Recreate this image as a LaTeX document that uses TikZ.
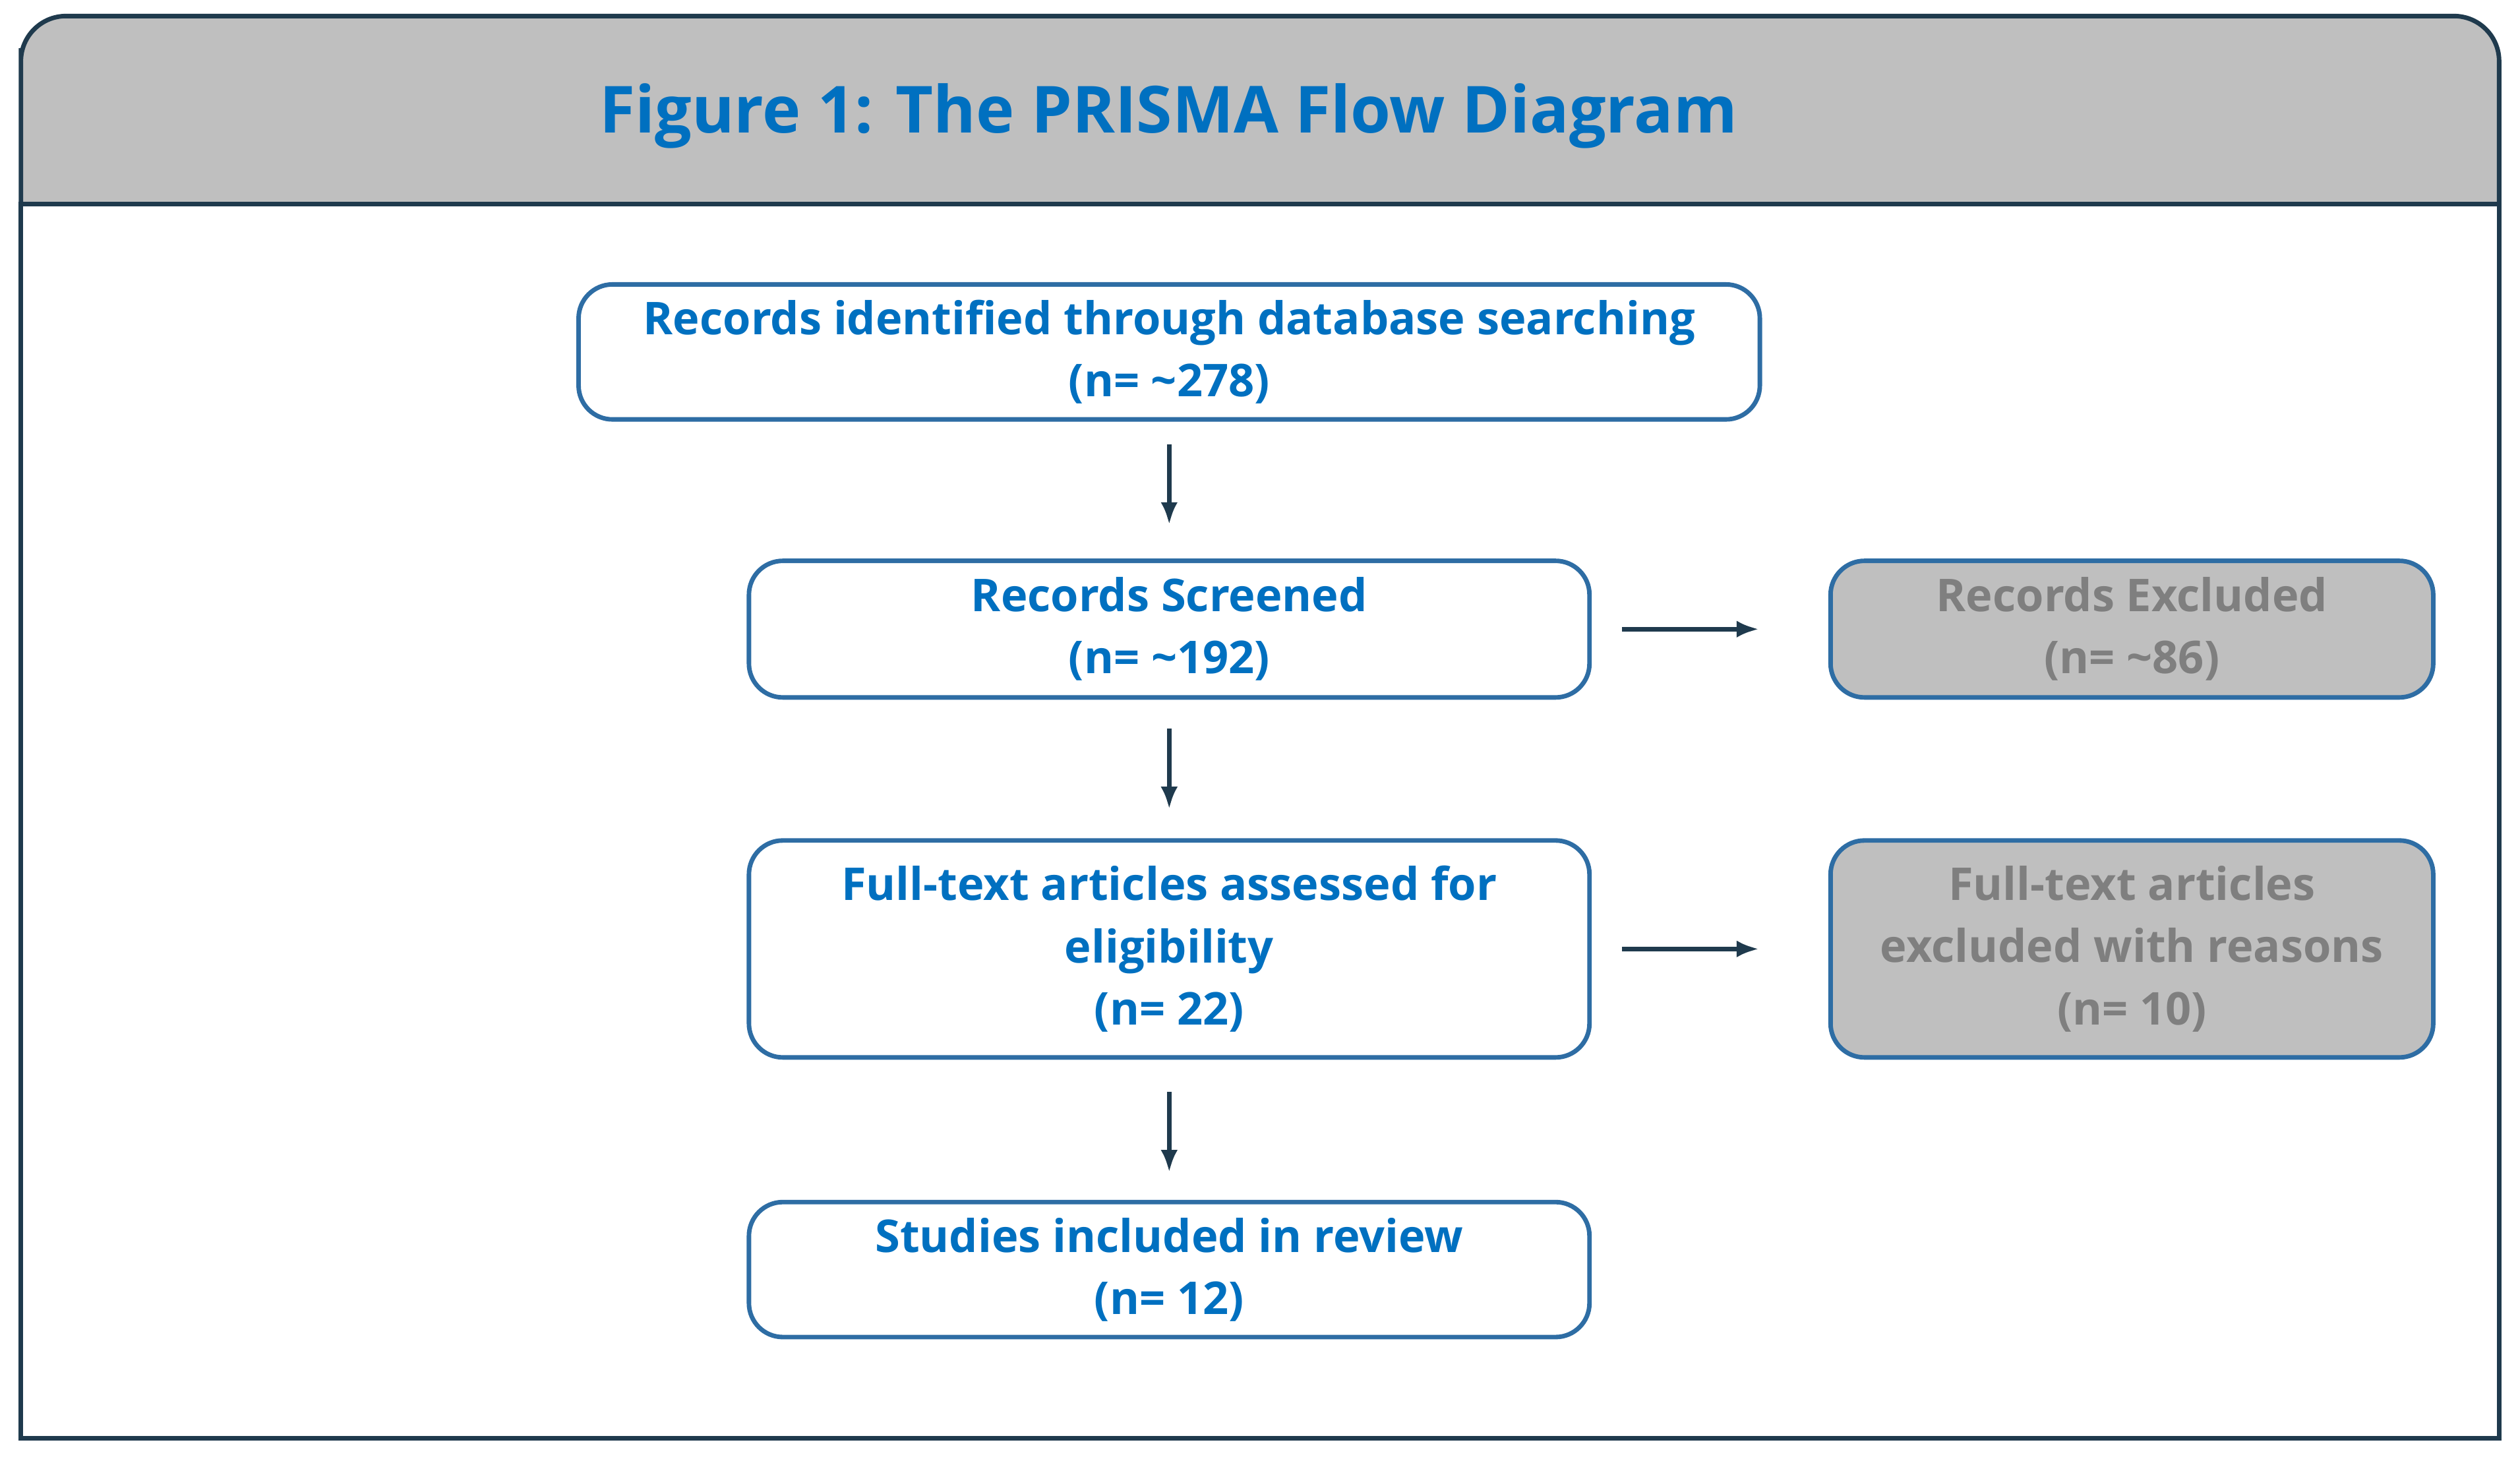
\documentclass[tikz,border=0pt]{standalone}
\usepackage{fontspec}
\setmainfont{Open Sans}
\usetikzlibrary{arrows.meta, positioning}
\definecolor{titleblue}{HTML}{0070C0}
\definecolor{edgeblue}{HTML}{2E6DA4}
\definecolor{framedark}{HTML}{1F3A4D}
\definecolor{headgrey}{HTML}{BFBFBF}
\definecolor{textgrey}{HTML}{7F7F7F}
\tikzset{
    stage/.style={draw=edgeblue, thick, rounded corners=6pt, fill=white, align=center,
        text=titleblue, font=\fontsize{8}{11}\selectfont\bfseries, inner sep=0pt},
    excl/.style={stage, fill=headgrey, text=textgrey},
    flow/.style={-{Latex[length=4pt,width=3pt]}, draw=framedark, thick}
}
\begin{document}
\begin{tikzpicture}
\useasboundingbox (0,0) rectangle (15.68,9.10);
\draw[framedark, thick] (0.13,0.15) rectangle (15.55,7.83);
\draw[framedark, thick, fill=headgrey] (0.13,7.83) -- (0.13,8.80) [rounded corners=8pt] -- (0.13,9.00) -- (15.55,9.00) [sharp corners] -- (15.55,7.83) -- cycle;
\node[text=titleblue, font=\fontsize{11.5}{14}\selectfont\bfseries] (title) at (7.27,8.38) {Figure 1: The PRISMA Flow Diagram};
\node[stage, minimum width=7.35cm, minimum height=0.84cm] (records) at (7.275,6.91) {Records identified through database searching\\(n= \textasciitilde 278)};
\node[stage, minimum width=5.23cm, minimum height=0.85cm] (screened) at (7.275,5.185) {Records Screened\\(n= \textasciitilde 192)};
\node[stage, minimum width=5.23cm, minimum height=1.35cm] (fulltext) at (7.275,3.195) {Full-text articles assessed for\\eligibility\\(n= 22)};
\node[stage, minimum width=5.23cm, minimum height=0.84cm] (included) at (7.275,1.20) {Studies included in review\\(n= 12)};
\node[excl, minimum width=3.75cm, minimum height=0.85cm] (excluded) at (13.265,5.185) {Records Excluded\\(n= \textasciitilde 86)};
\node[excl, minimum width=3.75cm, minimum height=1.35cm] (reasons) at (13.265,3.195) {Full-text articles\\excluded with reasons\\(n= 10)};
% connectors
\draw[flow, shorten <=0.14cm, shorten >=0.21cm] (records) -- (screened);
\draw[flow, shorten <=0.18cm, shorten >=0.18cm] (screened) -- (fulltext);
\draw[flow, shorten <=0.20cm, shorten >=0.17cm] (fulltext) -- (included);
\draw[flow, shorten <=0.19cm, shorten >=0.43cm] (screened) -- (excluded);
\draw[flow, shorten <=0.19cm, shorten >=0.43cm] (fulltext) -- (reasons);
\end{tikzpicture}
\end{document}
